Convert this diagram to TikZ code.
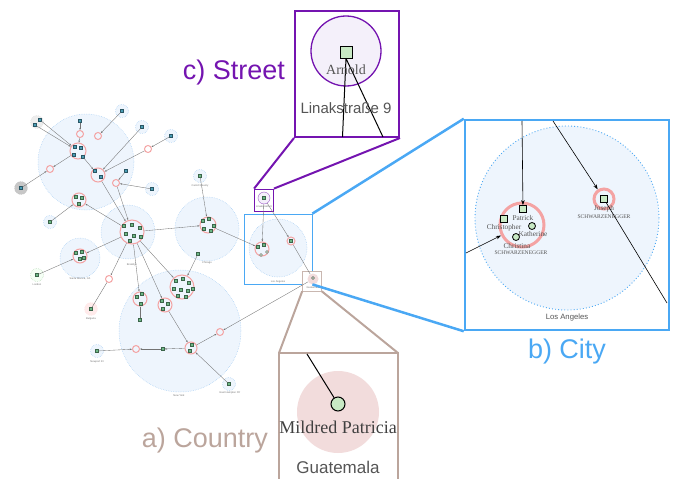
\documentclass[tikz,border=0pt]{standalone}
\usepackage{fontspec}
\setmainfont{Liberation Serif}
\setsansfont{Liberation Sans}
\usetikzlibrary{arrows.meta}

\definecolor{streetpurple}{HTML}{7414B0}
\definecolor{cityblue}{HTML}{4AA8F4}
\definecolor{countrybrown}{HTML}{BBA59C}
\definecolor{regionfill}{HTML}{EEF5FD}
\definecolor{regionline}{HTML}{9CC8F2}
\definecolor{ringred}{HTML}{F4A3A3}
\definecolor{persongreen}{HTML}{C8E9C4}
\definecolor{streetfill}{HTML}{F4F0FA}
\definecolor{countryfill}{HTML}{F2DCDC}
\definecolor{memberteal}{HTML}{4A9DB5}
\definecolor{membergreen}{HTML}{6DB886}
\definecolor{labelgray}{HTML}{555555}

\begin{document}
\begin{tikzpicture}[x=1pt, y=-1pt,
  region/.style={circle, draw=regionline, dash pattern=on 0.5pt off 1.2pt, line width=0.5pt, fill=regionfill, inner sep=0},
  place/.style={region, minimum size=13},
  ring/.style={circle, draw=ringred, line width=1pt, inner sep=0, minimum size=7},
  member/.style={draw=memberteal!55!black, fill=memberteal, line width=0.25pt, minimum size=2.8, inner sep=0},
  gmember/.style={member, draw=membergreen!55!black, fill=membergreen},
  link/.style={-{Stealth[length=2.2pt,width=1.6pt]}, draw=black!55, line width=0.35pt},
  tag/.style={font=\sffamily\fontsize{2.6}{3}\selectfont, text=black!55, inner sep=0},
  person/.style={draw=black, line width=0.8pt, fill=persongreen, inner sep=0},
  firstname/.style={font=\fontsize{7.3}{8}\selectfont, text=labelgray, inner sep=0},
  surname/.style={font=\fontsize{5.6}{6}\selectfont, text=labelgray, inner sep=0},
  biglink/.style={-{Stealth[length=5pt,width=3.5pt]}, line width=0.6pt},
  caption/.style={font=\sffamily\fontsize{27}{30}\selectfont, inner sep=0}]
\newcommand{\zoomwidth}{2pt} % width of the zoom frames

\useasboundingbox (0,0) rectangle (673,479);

% ---- overview: regions
\node[region, minimum size=96] (regNorth) at (86,162) {};
\node[region, minimum size=54] (regBrooklyn) at (128,232) {};
\node[region, minimum size=64] (regChicago) at (207,229) {};
\node[region, minimum size=40] (regSanta) at (80,258) {};
\node[region, minimum size=122] (regNY) at (180,331) {};

% small places
\node[place, fill=black!7, draw=black!15] (pA) at (37,122) {};
\node[place, fill=black!22, draw=black!25] (pB) at (21,188) {};
\node[place] (pC) at (122,111) {};
\node[place] (pD) at (142,127) {};
\node[place] (pE) at (171,136) {};
\node[place] (pF) at (152,189) {};
\node[place] (pCarroll) at (200,176) {};
\node[place] (pG) at (50,222) {};
\node[place, fill=green!4, draw=green!30!gray!50] (pLondon) at (37,275) {};
\node[place, fill=red!8, draw=red!10] (pBulgaria) at (91,309) {};
\node[place] (pNewport) at (97,351) {};
\node[place] (pEastHampton) at (229,384) {};

% squares sitting alone or inside places
\node[member] (sqA) at (80,121) {};
\node[member] (sqA1) at (35,125) {};
\node[member] (sqA2) at (40,120) {};
\node[member] (sqB) at (126,171) {};
\node[member] (sqB1) at (21,188) {};
\foreach \p/\n in {{122,111}/C, {142,127}/D, {171,136}/E, {152,189}/F}
  \node[member] (sq\n) at (\p) {};
\foreach \p/\n in {{200,176}/Carroll, {50,222}/G, {37,275}/London, {91,309}/Bulgaria,
                   {97,351}/Newport, {229,384}/EastHampton, {198,254}/Chicago,
                   {140,320}/NYa, {163,349}/NYb}
  \node[gmember] (sq\n) at (\p) {};

% small rings
\node[ring] (rA) at (80,134) {};
\node[ring] (rB) at (98,136) {};
\node[ring] (rC) at (148,149) {};
\node[ring] (rD) at (50,169) {};
\node[ring] (rE) at (116,183) {};
\node[ring] (rF) at (109,279) {};
\node[ring] (rG) at (136,349) {};
\node[ring] (rH) at (220,332) {};

% clusters
\node[ring, minimum size=16] (cNorth) at (78,151) {};
\node[ring, minimum size=14] (cMid) at (98,175) {};
\node[ring, minimum size=14] (cWest) at (79,200) {};
\node[ring, minimum size=24] (cBrooklyn) at (132,232) {};
\node[ring, minimum size=16] (cChicago) at (208,225) {};
\node[ring, minimum size=14] (cSanta) at (80,256) {};
\node[ring, minimum size=24] (cNYa) at (182,287) {};
\node[ring, minimum size=14] (cNYb) at (140,299) {};
\node[ring, minimum size=14] (cNYc) at (165,305) {};
\node[ring, minimum size=12] (cNYd) at (191,348) {};

\foreach \p [count=\i] in {{75,147},{81,148},{74,155},{83,157}}
  \node[member] (mN\i) at (\p) {};
\foreach \p [count=\i] in {{95,171},{101,177}}
  \node[member] (mM\i) at (\p) {};
\foreach \p [count=\i] in {{76,197},{82,198},{79,204}}
  \node[gmember] (mW\i) at (\p) {};
\foreach \p [count=\i] in {{124,226},{132,225},{140,228},{126,234},{134,236},{141,237},{130,241}}
  \node[gmember] (mB\i) at (\p) {};
\foreach \p [count=\i] in {{203,221},{209,219},{214,226},{204,229},{211,231}}
  \node[gmember] (mC\i) at (\p) {};
\foreach \p [count=\i] in {{76,253},{82,252},{80,259},{84,258}}
  \node[gmember] (mS\i) at (\p) {};
\foreach \p [count=\i] in {{176,281},{183,279},{189,283},{174,289},{181,290},{188,291},{178,296},{186,297},{193,289}}
  \node[gmember] (mY\i) at (\p) {};
\foreach \p [count=\i] in {{137,297},{142,294},{141,304}}
  \node[gmember] (mYb\i) at (\p) {};
\foreach \p [count=\i] in {{162,301},{168,304},{163,309}}
  \node[gmember] (mYc\i) at (\p) {};
\foreach \p [count=\i] in {{192,345},{190,351}}
  \node[gmember] (mYd\i) at (\p) {};

% Los Angeles, street and Guatemala frames in the overview
\node[draw=cityblue, line width=0.8pt, minimum width=68, minimum height=70, inner sep=0] (boxLA) at (278,249) {};
\node[region, minimum size=58] (regLA) at (278,248) {};
\node[ring, minimum size=14] (cLA) at (262,249) {};
\node[gmember] (mL1) at (258,247) {};
\node[gmember] (mL2) at (264,245) {};
\node[circle, draw=black!50, fill=persongreen, minimum size=3, inner sep=0] (mL3) at (267,252) {};
\node[circle, draw=black!50, fill=persongreen, minimum size=3, inner sep=0] (mL4) at (261,255) {};
\node[ring, minimum size=8] (cJoseph) at (291,241) {};
\node[gmember] (mJ) at (291,241) {};

\node[draw=streetpurple, line width=0.8pt, minimum width=19, minimum height=22, inner sep=0] (boxStreetS) at (264,200) {};
\node[circle, draw=streetpurple!70, fill=streetfill, line width=0.4pt, minimum size=12, inner sep=0] (streetC) at (264,198) {};
\node[gmember] (mA) at (264,198) {};

\node[draw=countrybrown!80, fill=white, line width=0.6pt, minimum width=19, minimum height=20, inner sep=0] (boxGuat) at (312,281) {};
\node[circle, fill=countryfill, minimum size=11, inner sep=0] (guatC) at (313,279) {};
\node[circle, draw=black!60, fill=persongreen, minimum size=3, inner sep=0] (mG) at (313,278) {};

% overview links
\draw[link] (sqA1) -- (cNorth);
\draw[link] (sqA2) -- (cNorth);
\draw[link] (sqA) -- (rA);
\draw[link] (rA) -- (cNorth);
\draw[link] (sqC) -- (rB);
\draw[link] (sqB1) -- (rD);
\draw[link] (cNorth) -- (rD);
\draw[link] (cNorth) -- (cMid);
\draw[link] (sqD) -- (cMid);
\draw[link] (sqE) -- (rC);
\draw[link] (rC) -- (cMid);
\draw[link] (sqB) -- (rE);
\draw[link] (sqF) -- (rE);
\draw[link] (cMid) -- (cBrooklyn);
\draw[link] (rE) -- (cBrooklyn);
\draw[link] (cBrooklyn) -- (cWest);
\draw[link] (sqG) -- (cWest);
\draw[link] (cBrooklyn) -- (cSanta);
\draw[link] (sqLondon) -- (cSanta);
\draw[link] (cBrooklyn) -- (rF);
\draw[draw=black!55, line width=0.35pt] (rF) -- (sqBulgaria);
\draw[link] (cBrooklyn) -- (cNYb);
\draw[link] (cBrooklyn) -- (cNYc);
\draw[link] (cBrooklyn) -- (cNYa);
\draw[link] (cBrooklyn) -- (cChicago);
\draw[link] (sqCarroll) -- (cChicago);
\draw[link] (sqChicago) -- (cNYa);
\draw[draw=black!55, line width=0.35pt] (cNYb) -- (sqNYa);
\draw[link] (cNYc) -- (cNYd);
\draw[link] (sqEastHampton) -- (cNYd);
\draw[link] (cNYd) -- (rH);
\draw[link] (guatC) -- (rH);
\draw[link] (sqNewport) -- (rG);
\draw[link] (sqNYb) -- (rG);
\draw[link] (cNYd) -- (sqNYb);
\draw[link] (cChicago) -- (cLA);
\draw[link] (streetC) -- (cLA);
\draw[link] (streetC) -- (cJoseph);
\draw[draw=black!55, line width=0.35pt] (cJoseph) -- (guatC);

% overview labels
\node[tag] (tNY) at (179,396) {New York};
\node[tag] (tChicago) at (207,263) {Chicago};
\node[tag] (tBrooklyn) at (132,265) {Brooklyn};
\node[tag] (tSanta) at (80,279) {Santa Monica, CA};
\node[tag] (tLondon) at (37,285) {London};
\node[tag] (tBulgaria) at (91,319) {Bulgaria};
\node[tag] (tNewport) at (97,362) {Newport RI};
\node[tag] (tEast) at (230,393) {East Hampton NY};
\node[tag] (tCarroll) at (200,186) {Carroll County};
\node[tag] (tLA) at (278,282) {Los Angeles};
\node[tag] (tStreetS) at (264,207) {Linakstraße 9};
\node[tag] (tGuatS) at (313,288) {Guatemala};

% ---- c) street close-up
\node[draw=streetpurple, line width=\zoomwidth, fill=white, minimum width=104, minimum height=126, inner sep=0] (boxStreet) at (347,74) {};
\draw[streetpurple, line width=\zoomwidth] (boxStreetS.north west) -- (boxStreet.south west);
\draw[streetpurple, line width=\zoomwidth] (boxStreetS.north east) -- (boxStreet.south east);
\node[circle, draw=streetpurple, line width=1.3pt, fill=streetfill, minimum size=70, inner sep=0] (streetRing) at (346,51) {};
\coordinate (streetOutA) at (342.5,137);
\coordinate (streetOutB) at (383,137);
\node[person, minimum size=12] (arnold) at (346,52) {};
\draw[line width=1pt, line join=round] (streetOutA) -- (arnold.south) -- (streetOutB);
\node[font=\fontsize{14}{16}\selectfont, text=labelgray, inner sep=0] (arnoldName) at (346,70) {Arnold};
\node[font=\sffamily\fontsize{15}{17}\selectfont, text=labelgray, inner sep=0] (streetName) at (346,108) {Linakstraße 9};
\node[caption, text=streetpurple] (capStreet) at (234,73) {c) Street};

% ---- b) city close-up
\node[draw=cityblue, line width=2.5pt, fill=white, minimum width=204, minimum height=210, inner sep=0] (boxCity) at (567,225) {};
\draw[cityblue, line width=2.5pt] (boxLA.north east) -- (boxCity.north west);
\draw[cityblue, line width=2.5pt] (boxLA.south east) -- (boxCity.south west);
\node[circle, draw=cityblue, dash pattern=on 0.9pt off 2.2pt, line width=0.9pt, fill=regionfill, minimum size=184, inner sep=0] (cityRegion) at (567,218) {};
\node[font=\sffamily\fontsize{7.7}{9}\selectfont, text=labelgray, inner sep=0] (cityName) at (567,318) {Los Angeles};

\node[circle, draw=ringred, line width=3pt, minimum size=44, inner sep=0] (laCluster) at (522,225) {};
\node[person, minimum size=7] (patrick) at (523,209) {};
\node[person, minimum size=7] (christopher) at (504,219) {};
\node[person, circle, minimum size=7] (katherine) at (532,226) {};
\node[person, circle, minimum size=7] (christina) at (516,237) {};
\node[firstname] (patrickName) at (523,218) {Patrick};
\node[firstname] (christopherName) at (504,228) {Christopher};
\node[firstname] (katherineName) at (533,234) {Katherine};
\node[firstname] (christinaName) at (517,246) {Christina};
\node[surname] (laSurname) at (521,253) {SCHWARZENEGGER};

\node[circle, draw=ringred, line width=3pt, minimum size=20, inner sep=0] (josephRing) at (604,199) {};
\node[person, minimum size=7] (joseph) at (604,199) {};
\node[firstname] (josephName) at (604,209) {Joseph};
\node[surname] (josephSurname) at (604,217) {SCHWARZENEGGER};

\coordinate (cityInA) at (522,121);
\coordinate (cityInB) at (553,121);
\coordinate (cityInC) at (466,253);
\coordinate (cityOut) at (667,303);
\draw[biglink] (cityInA) -- (patrick);
\draw[biglink] (cityInB) -- (josephRing);
\draw[biglink] (cityInC) -- (laCluster);
\draw[line width=0.6pt] (joseph) -- (cityOut);
\node[caption, text=cityblue] (capCity) at (567,352) {b) City};

% ---- a) country close-up
\coordinate (ctryTL) at (279,353);
\coordinate (ctryTR) at (398,353);
\draw[countrybrown, line width=\zoomwidth] (279,480) -- (ctryTL) -- (ctryTR) -- (398,480);
\draw[countrybrown, line width=\zoomwidth] (boxGuat.south west) -- (ctryTL);
\draw[countrybrown, line width=\zoomwidth] (boxGuat.south east) -- (ctryTR);
\node[circle, fill=countryfill, minimum size=82, inner sep=0] (guatRegion) at (338,412) {};
\coordinate (ctryIn) at (307,354);
\node[person, circle, line width=1pt, minimum size=14] (mildred) at (338,404) {};
\draw[line width=1pt] (ctryIn) -- (mildred);
\node[font=\fontsize{18}{20}\selectfont, text=black!75, inner sep=0] (mildredName) at (338,427) {Mildred Patricia};
\node[font=\sffamily\fontsize{17}{19}\selectfont, text=labelgray, inner sep=0] (countryName) at (338,467) {Guatemala};
\node[caption, text=countrybrown] (capCountry) at (205,441) {a) Country};
\end{tikzpicture}
\end{document}
